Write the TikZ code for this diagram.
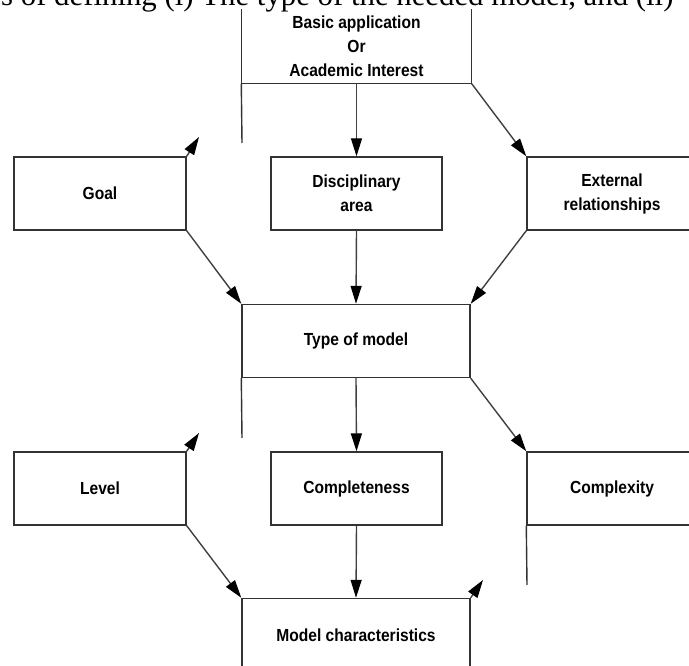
\documentclass[tikz,border=0pt]{standalone}
\usepackage{fontspec}
\setmainfont{Liberation Sans}[FakeStretch=0.89]
\newfontfamily\topserif{Liberation Serif}
\usetikzlibrary{arrows.meta}

\begin{document}
\begin{tikzpicture}[x=1pt,y=-1pt,
  box/.style={draw=black!80,line width=1.4pt,minimum height=73pt,inner sep=0pt,align=center,font=\fontsize{17.5}{24}\selectfont\bfseries},
  link/.style={draw=black!75,line width=1.4pt,-{Triangle[length=18pt,width=11pt,black]}},
  edge/.style={draw=black!80,line width=1.4pt}]
\useasboundingbox (0,0) rectangle (689,666);
\clip (0,0) rectangle (689,666);

\node[anchor=base west,inner sep=0pt,font=\topserif\fontsize{30.8}{36}\selectfont] (caption) at (1,6) {s of defining (i) The type of the needed model, and (ii)};

\node[box,draw=none,minimum width=229pt] (src) at (356.5,46.5) {Basic application\\Or\\Academic Interest};
\draw[edge] (src.north west) |- (src.south east) -- (src.north east);

\node[box,minimum width=172pt] (goal) at (100,193.5) {Goal};
\node[box,minimum width=171pt] (disc) at (356.5,193.5) {Disciplinary\\area};
\node[box,minimum width=170pt] (ext) at (612,193.5) {External\\relationships};
\node[box,minimum width=228pt] (type) at (356,341) {Type of model};
\node[box,minimum width=172pt] (level) at (100,488.5) {Level};
\node[box,minimum width=171pt] (compl) at (356.5,488.5) {Completeness};
\node[box,minimum width=170pt] (cplx) at (612,488.5) {Complexity};
\node[box,minimum width=228pt] (mc) at (356,635) {Model characteristics};

% loose ends
\coordinate (srcend) at (242,143);
\coordinate (typeend) at (242,438);
\coordinate (cplxend) at (527,585);
\coordinate (goaltip) at (199,137);
\coordinate (leveltip) at (199,433);
\coordinate (mctip) at (483,580);

\draw[edge] (src.south west) -- (srcend);
\draw[link] (src.south) -- (disc.north);
\draw[link] (src.south east) -- (ext.north west);
\draw[link] (goal.north east) -- (goaltip);

\draw[link] (goal.south east) -- (type.north west);
\draw[link] (disc.south) -- (type.north);
\draw[link] (ext.south west) -- (type.north east);

\draw[edge] (type.south west) -- (typeend);
\draw[link] (type.south) -- (compl.north);
\draw[link] (type.south east) -- (cplx.north west);
\draw[link] (level.north east) -- (leveltip);

\draw[link] (level.south east) -- (mc.north west);
\draw[link] (compl.south) -- (mc.north);
\draw[edge] (cplx.south west) -- (cplxend);
\draw[link] (mc.north east) -- (mctip);
\end{tikzpicture}
\end{document}
